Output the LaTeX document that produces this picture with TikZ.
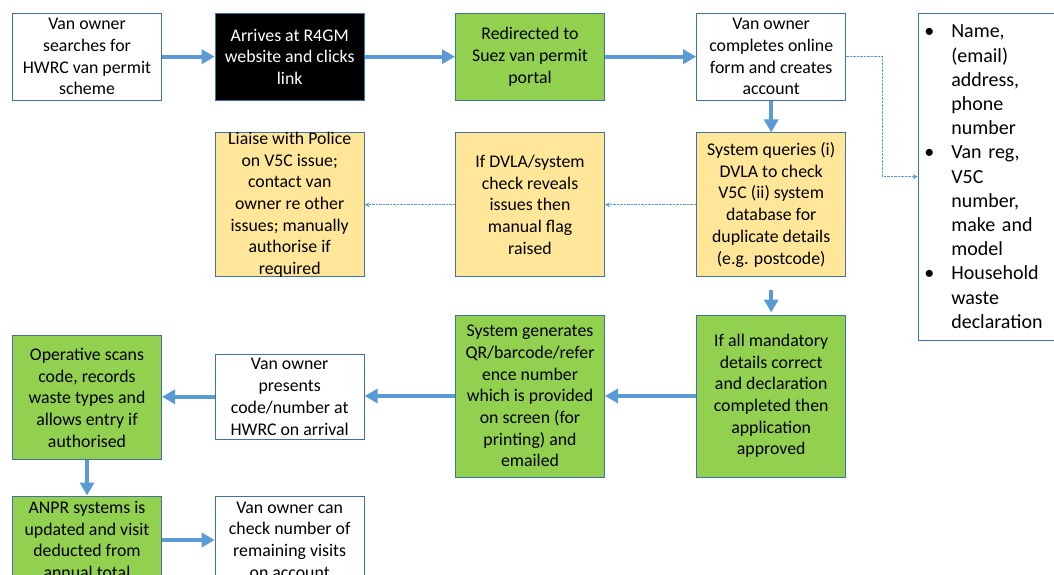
\documentclass[tikz,border=0pt]{standalone}
\usepackage{fontspec}
\setmainfont{Carlito}
\usetikzlibrary{arrows.meta}
\definecolor{bordc}{HTML}{41719C}
\definecolor{arrc}{HTML}{5B9BD5}
\definecolor{gfill}{HTML}{92D050}
\definecolor{yfill}{HTML}{FFE699}
\newcommand\boxfont{\fontsize{17.8pt}{21.7pt}\selectfont}
\newcommand\listfont{\fontsize{20pt}{24.2pt}\selectfont}
\newcommand\bul{\makebox[27pt][l]{\textbullet}}
\newcommand\ind{\hspace*{27pt}}
\begin{document}
\begin{tikzpicture}[x=1pt,y=-1pt,
 box/.style={draw=bordc, line width=1pt, minimum width=149pt, inner sep=0pt, align=center, font=\boxfont, text=black},
 whitebox/.style={box, fill=white},
 blackbox/.style={box, fill=black, text=white},
 greenbox/.style={box, fill=gfill},
 yellowbox/.style={box, fill=yfill},
 plaintext/.style={inner sep=0pt, align=center, font=\boxfont, text=black},
 flow/.style={draw=arrc, line width=4pt, -{Triangle[length=13pt,width=14pt]}},
 note/.style={draw=arrc, line width=1pt, dash pattern=on 2.5pt off 1pt, -{Stealth[length=5pt,width=5pt]}}]
\useasboundingbox (0,0) rectangle (1054,575);
\clip (0,0) rectangle (1054,575);
\fill[white] (0,0) rectangle (1054,575);

% row 1
\node[whitebox, minimum height=86.7pt] (A) at (87,56.7) {Van owner\\searches for\\HWRC van permit\\scheme};
\node[blackbox, minimum height=86.7pt] (B) at (289.7,56.7) {Arrives at R4GM\\website and clicks\\link};
\node[greenbox, minimum height=86.7pt] (C) at (530,56.7) {Redirected to\\Suez van permit\\portal};
\node[whitebox, minimum height=86.7pt] (D) at (771.2,56.7) {Van owner\\completes online\\form and creates\\account};
\node[draw=bordc, line width=1pt, fill=white, minimum width=146.7pt, text width=134.7pt,
      inner xsep=6pt, inner ysep=0pt, minimum height=326.7pt, font=\listfont, align=left, text=black]
  (E) at (991.65,176.7)
  {\bul Name,\\\ind(email)\\\ind address,\\\ind phone\\\ind number\\
   \bul Van reg,\\\ind V5C\\\ind number,\\\ind make and\\\ind model\\
   \bul Household\\\ind waste\\\ind declaration};

% row 2
\node[yellowbox, minimum height=143.7pt] (F) at (289.7,204.8) {};
\node[plaintext] (Ftext) at (F.center) {Liaise with Police\\on V5C issue;\\contact van\\owner re other\\issues; manually\\authorise if\\required};
\node[yellowbox, minimum height=143.7pt] (G) at (530,204.8) {If DVLA/system\\check reveals\\issues then\\manual flag\\raised};
\node[yellowbox, minimum height=143.7pt] (H) at (771.2,204.8) {System queries (i)\\DVLA to check\\V5C (ii) system\\database for\\duplicate details\\(e.g. postcode)};

% row 3
\node[greenbox, minimum height=162pt] (I) at (771.2,396) {If all mandatory\\details correct\\and declaration\\completed then\\application\\approved};
\node[greenbox, minimum height=162pt] (J) at (530,396) {System generates\\QR/barcode/refer\\ence number\\which is provided\\on screen (for\\printing) and\\emailed};
\node[whitebox, minimum height=85pt] (K) at (289.7,396.8) {Van owner\\presents\\code/number at\\HWRC on arrival};
\node[greenbox, minimum height=124.3pt] (L) at (87,397.8) {Operative scans\\code, records\\waste types and\\allows entry if\\authorised};

% row 4
\node[greenbox, minimum height=88pt] (M) at (87,540) {ANPR systems is\\updated and visit\\deducted from\\annual total};
\node[whitebox, minimum height=88pt] (N) at (289.7,540) {Van owner can\\check number of\\remaining visits\\on account};

% flow arrows
\draw[flow] (A.east) -- (B.west);
\draw[flow] (B.east) -- (C.west);
\draw[flow] (C.east) -- (D.west);
\draw[flow] (D.south) -- (H.north);
\draw[flow, shorten <=13pt, shorten >=2pt] (H.south) -- (I.north);
\draw[flow] (I.west) -- (J.east);
\draw[flow] (J.west) -- (J.west -| K.east);
\draw[flow] (K.west) -- (K.west -| L.east);
\draw[flow] (L.south) -- (M.north);
\draw[flow] (M.east) -- (N.west);

% dashed arrows
\draw[note] (H.west) -- (G.east);
\draw[note] (G.west) -- (F.east);
\draw[note] (D.east) -- ++(36.6,0) |- (E.west);
\end{tikzpicture}
\end{document}
